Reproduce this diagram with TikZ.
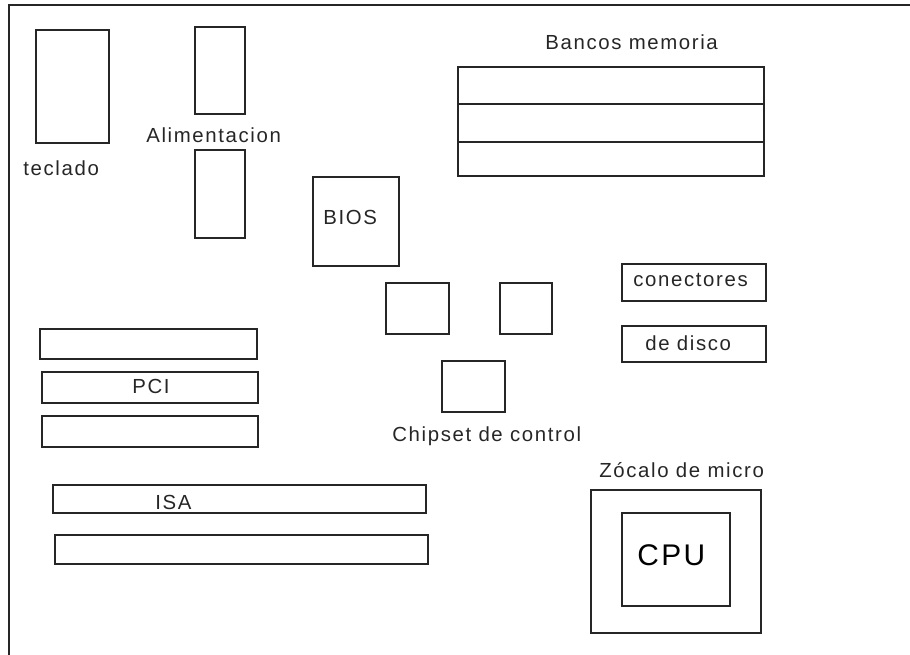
\documentclass[tikz,border=0pt]{standalone}
\usepackage{fontspec}
\setmainfont{Liberation Sans}[LetterSpace=8]
\begin{document}
\begin{tikzpicture}[x=0.02cm,y=-0.02cm,
  part/.style={draw=black!85,line width=0.9pt},
  lbl/.style={anchor=base west,inner sep=0pt,font=\fontsize{11.6}{13}\selectfont,text=black!85},
  biglbl/.style={anchor=base west,inner sep=0pt,font=\fontsize{17}{19}\selectfont,text=black}]
\useasboundingbox (0,0) rectangle (910,655);
% board outline (top and left edges)
\draw[part] (9,655) -- (9,5) -- (910,5);

% keyboard connector
\draw[part] (36,30) rectangle (109,143);
\node[lbl] (teclado) at (23,176) {teclado};

% power connectors
\draw[part] (195,27) rectangle (245,114);
\draw[part] (195,150) rectangle (245,238);
\node[lbl] (alim) at (146,143) {Alimentacion};

% memory banks
\node[lbl] (bancos) at (545,50) {Bancos memoria};
\draw[part] (458,67) rectangle (764,176);
\draw[part] (458,104) -- (764,104);
\draw[part] (458,142) -- (764,142);

% BIOS chip
\draw[part] (313,177) rectangle (399,266);
\node[lbl] (bios) at (323,225) {BIOS};

% chipset
\draw[part] (386,283) rectangle (449,334);
\draw[part] (500,283) rectangle (552,334);
\draw[part] (442,361) rectangle (505,412);
\node[lbl] (chipset) at (392,441) {Chipset de control};

% disk connectors
\draw[part] (622,264) rectangle (766,301);
\node[lbl] (conect) at (633,287) {conectores};
\draw[part] (622,326) rectangle (766,362);
\node[lbl] (disco) at (645,351) {de disco};

% PCI slots
\draw[part] (40,329) rectangle (257,359);
\draw[part] (42,372) rectangle (258,403);
\draw[part] (42,416) rectangle (258,447);
\node[lbl] (pci) at (132,394) {PCI};

% ISA slots
\draw[part] (53,485) rectangle (426,513);
\draw[part] (55,535) rectangle (428,564);
\node[lbl] (isa) at (155,509) {ISA};

% CPU socket
\node[lbl] (zocalo) at (599,478) {Zócalo de micro};
\draw[part] (591,490) rectangle (761,633);
\draw[part] (622,513) rectangle (730,606);
\node[biglbl] (cpu) at (637,565) {CPU};
\end{tikzpicture}
\end{document}
